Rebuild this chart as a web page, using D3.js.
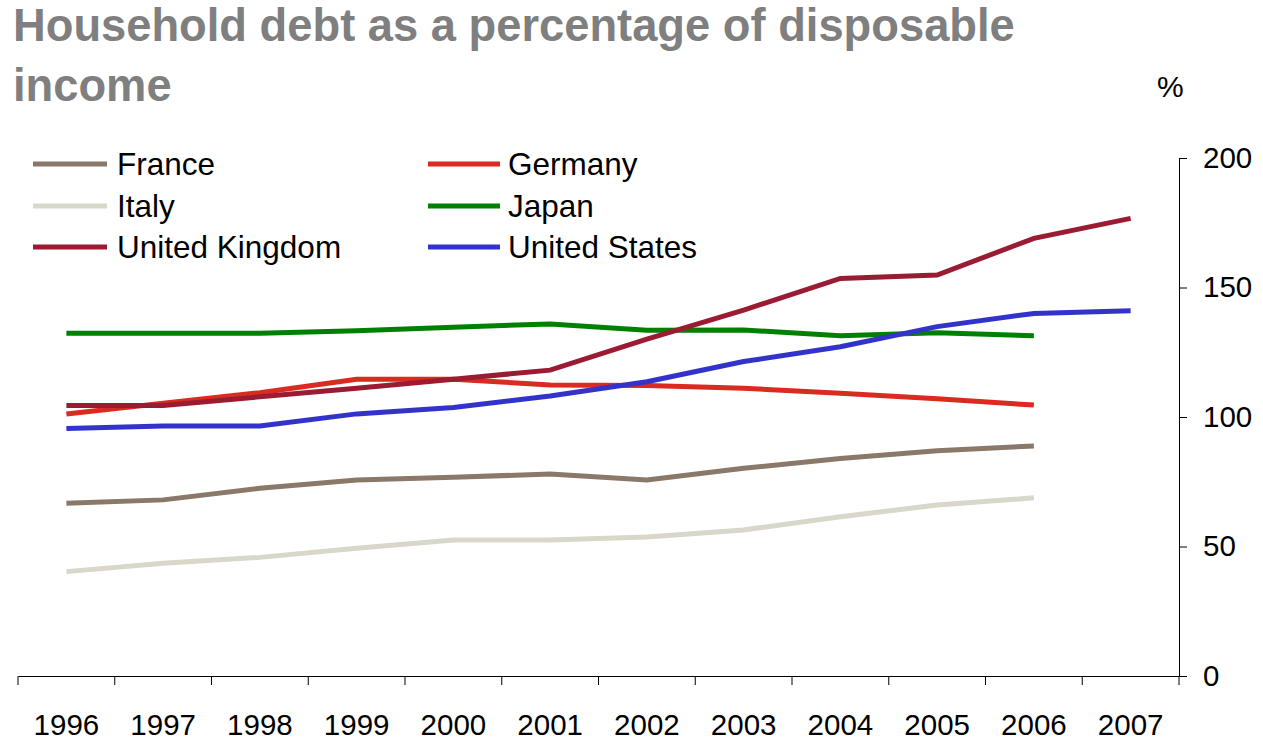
<!DOCTYPE html>
<html>
<head>
<meta charset="utf-8">
<script src="https://cdn.jsdelivr.net/npm/d3@7"></script>
<style>
  body { margin: 0; background: #fff; }
  svg { display: block; font-family: "Liberation Sans", Arial, sans-serif; }
  .axis path, .axis line { stroke: #000; stroke-width: 1; }
  .axis text { font-size: 29.5px; fill: #000; }
</style>
</head>
<body>
<svg id="chart" width="1263" height="740"></svg>
<script>
// values (percent of disposable income)
const years = ['1996','1997','1998','1999','2000','2001','2002','2003','2004','2005','2006','2007'];
const france  = [66.7, 68.0, 72.5, 75.7, 76.7, 78.0, 75.7, 80.2, 84.0, 87.0, 88.8];
const germany = [101.2, 105.3, 109.4, 114.6, 114.6, 112.4, 112.2, 111.1, 109.2, 107.0, 104.6];
const italy   = [40.3, 43.5, 45.8, 49.3, 52.5, 52.5, 53.7, 56.4, 61.5, 66.0, 68.8];
const japan   = [132.3, 132.3, 132.3, 133.3, 134.7, 135.9, 133.5, 133.6, 131.4, 132.5, 131.4];
const uk      = [104.4, 104.4, 107.8, 111.1, 114.6, 118.1, 130.1, 141.3, 153.5, 154.8, 169.0, 176.7];
const us      = [95.6, 96.5, 96.5, 101.2, 103.7, 108.1, 113.6, 121.4, 127.1, 134.9, 140.0, 141.0];
const yTicks  = [0, 50, 100, 150, 200];

const series = [
    { name: 'France',         values: france,  color: '#8a7868' },
    { name: 'Germany',        values: germany, color: '#d92b20' },
    { name: 'Italy',          values: italy,   color: '#d9d7c9' },
    { name: 'Japan',          values: japan,   color: '#008000' },
    { name: 'United Kingdom', values: uk,      color: '#9a1b32' },
    { name: 'United States',  values: us,      color: '#3333cc' }
];

const svg = d3.select('#chart');
const plotLeft = 18, plotRight = 1179, plotTop = 158, plotBottom = 676;

const x = d3.scaleBand().domain(years).range([plotLeft, plotRight]).padding(0);
const y = d3.scaleLinear().domain([0, 200]).range([plotBottom, plotTop]);

// Title
const title = svg.append('text')
    .style('font-size', '45.3px').style('font-weight', 'bold').style('fill', '#7f7f7f');
title.append('tspan').attr('x', 13).attr('y', 41).text('Household debt as a percentage of disposable');
title.append('tspan').attr('x', 13).attr('y', 101).text('income');

svg.append('text')
    .attr('x', 1157).attr('y', 97)
    .style('font-size', '30px').text('%');

// X axis — labels centred in bands, ticks on band edges
const xAxis = svg.append('g')
    .attr('class', 'axis')
    .attr('transform', `translate(0,${plotBottom})`)
    .call(d3.axisBottom(x).tickSize(0).tickSizeOuter(0));
xAxis.selectAll('.tick text').attr('y', 59).attr('dy', 0);
const edges = years.map(d => x(d)).concat([plotRight]);
xAxis.selectAll('.edge').data(edges).join('line')
    .attr('class', 'edge')
    .attr('x1', d => d).attr('x2', d => d)
    .attr('y1', 0).attr('y2', 9);

// Y axis on the right
svg.append('g')
    .attr('class', 'axis')
    .attr('transform', `translate(${plotRight},0)`)
    .call(d3.axisRight(y).tickValues(yTicks).tickSize(8).tickSizeOuter(0).tickPadding(16));

// Lines
const line = d3.line()
    .x((d, i) => x(years[i]) + x.bandwidth() / 2)
    .y(d => y(d));

svg.append('g').selectAll('path').data(series).join('path')
    .attr('fill', 'none')
    .attr('stroke', d => d.color)
    .attr('stroke-width', 5)
    .attr('d', d => line(d.values));

// Legend — two columns, three rows
const legendRows = [164, 206, 247];
const legendCols = [{ x1: 33, x2: 107, tx: 117 }, { x1: 428, x2: 500, tx: 508 }];
const legend = svg.append('g').selectAll('g').data(series).join('g')
    .attr('transform', (d, i) => `translate(0,${legendRows[Math.floor(i / 2)]})`);
legend.append('line')
    .attr('x1', (d, i) => legendCols[i % 2].x1)
    .attr('x2', (d, i) => legendCols[i % 2].x2)
    .attr('stroke', d => d.color)
    .attr('stroke-width', 5);
legend.append('text')
    .attr('x', (d, i) => legendCols[i % 2].tx)
    .attr('y', 11)
    .style('font-size', '31.5px')
    .text(d => d.name);
</script>
</body>
</html>
